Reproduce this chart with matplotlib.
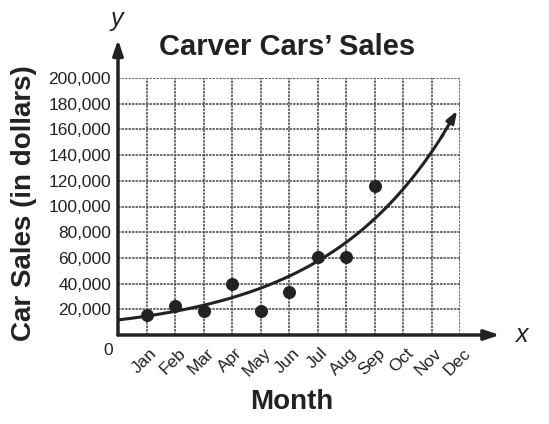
import numpy as np
import matplotlib.pyplot as plt

# data
months = ['Jan', 'Feb', 'Mar', 'Apr', 'May', 'Jun', 'Jul', 'Aug', 'Sep', 'Oct', 'Nov', 'Dec']
month_num = [1, 2, 3, 4, 5, 6, 7, 8, 9]
sales = [15500, 22500, 18500, 40000, 18500, 33500, 60500, 61000, 116000]
y_ticks = [20000, 40000, 60000, 80000, 100000, 120000, 140000, 160000, 180000, 200000]

# exponential model drawn on the chart, y = a * b**x
curve_a = 11700
curve_b = 1.255

plt.rcParams['font.family'] = ['Liberation Sans', 'DejaVu Sans']

fig = plt.figure(figsize=(5.49, 4.24), dpi=100)
W, H = 549, 424
x0, x1 = 118, 460
y0, y1 = 335, 78
ax = fig.add_axes([x0 / W, (H - y0) / H, (x1 - x0) / W, (y0 - y1) / H])

ax.set_xlim(0, 12)
ax.set_ylim(0, 200000)

# grid
for m in range(1, 13):
    ax.axvline(m, color='#555555', lw=1.2, ls=(0, (1.5, 0.6)), zorder=1)
for v in y_ticks:
    ax.axhline(v, color='#555555', lw=1.2, ls=(0, (1.5, 0.6)), zorder=1)
for s in ax.spines.values():
    s.set_visible(False)

ax.set_xticks(range(1, 13))
ax.set_xticklabels([])
ax.set_yticks(y_ticks)
ax.set_yticklabels([f'{v:,}' for v in y_ticks], fontsize=12.5, color='#222222')
ax.tick_params(axis='y', length=0, pad=5)
ax.tick_params(axis='x', length=0)

# month labels, rotated
for i, m in enumerate(months):
    ax.text(i + 1.1, -8000, m, rotation=45, ha='right', va='top',
            rotation_mode='anchor', fontsize=12.5, color='#222222')
ax.text(-0.35, -6000, '0', ha='center', va='top', fontsize=12.5, color='#222222')

# axes with arrows
ax.annotate('', xy=(13.4, 0), xytext=(0, 0), annotation_clip=False,
            arrowprops=dict(arrowstyle='-|>,head_length=0.9,head_width=0.3', lw=2.5,
                            color='#222222', shrinkA=0, shrinkB=0))
ax.annotate('', xy=(0, 230000), xytext=(0, 0), annotation_clip=False,
            arrowprops=dict(arrowstyle='-|>,head_length=0.9,head_width=0.3', lw=2.5,
                            color='#222222', shrinkA=0, shrinkB=0))
ax.text(14.2, 0, 'x', ha='center', va='center', fontsize=18, style='italic', color='#222222')
ax.text(-0.05, 246000, 'y', ha='center', va='center', fontsize=18, style='italic', color='#222222')

# model curve with arrow at the end
xs = np.linspace(0, 11.9, 200)
ys = curve_a * curve_b ** xs
ax.plot(xs[:-8], ys[:-8], color='#222222', lw=2.2, zorder=3, solid_capstyle='butt')
ax.annotate('', xy=(xs[-1], ys[-1]), xytext=(xs[-10], ys[-10]), annotation_clip=False,
            arrowprops=dict(arrowstyle='-|>,head_length=0.7,head_width=0.25', lw=2.2,
                            color='#222222', shrinkA=0, shrinkB=0))

ax.scatter(month_num, sales, s=70, color='#222222', zorder=4)

fig.text(287 / W, 1 - 47 / H, 'Carver Cars\u2019 Sales', ha='center', va='center',
         fontsize=21, fontweight='bold', color='#222222')
fig.text(292 / W, 1 - 402 / H, 'Month', ha='center', va='center',
         fontsize=20, fontweight='bold', color='#222222')
fig.text(24 / W, 1 - 203 / H, 'Car Sales (in dollars)', ha='center', va='center',
         rotation=90, fontsize=20, fontweight='bold', color='#222222')

fig.savefig('out.png', dpi=100)
